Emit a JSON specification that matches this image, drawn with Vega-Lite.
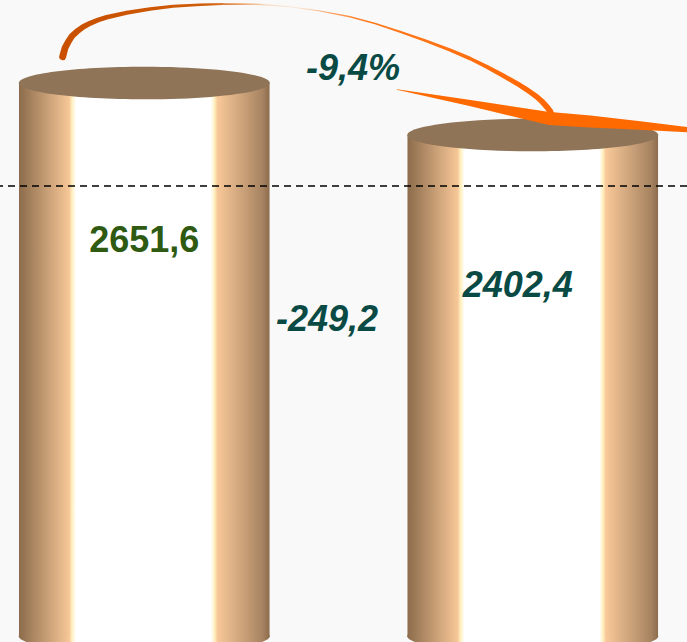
{
  "$schema": "https://vega.github.io/schema/vega-lite/v6.json",
  "width": 687,
  "height": 642,
  "padding": 0,
  "autosize": "none",
  "background": "#f9f9f9",
  "config": {"view": {"stroke": null}},
  "datasets": {
    "bars": [
      {"cat": "1", "value": 2651.6, "label": "2651,6"},
      {"cat": "2", "value": 2402.4, "label": "2402,4"}
    ],
    "ref": [{"level": 2158}],
    "arc": [
      {"ax": 62.7, "ay": 2777.3, "w": 7},
      {"ax": 65, "ay": 2819.0, "w": 6.8},
      {"ax": 68.3, "ay": 2849.2, "w": 6.5},
      {"ax": 72, "ay": 2876.5, "w": 6.2},
      {"ax": 76.7, "ay": 2897.1, "w": 6},
      {"ax": 83, "ay": 2919.6, "w": 5.6},
      {"ax": 90, "ay": 2937.4, "w": 5.2},
      {"ax": 98, "ay": 2953.2, "w": 4.9},
      {"ax": 106.7, "ay": 2966.1, "w": 4.6},
      {"ax": 126.7, "ay": 2988.2, "w": 4.1},
      {"ax": 150, "ay": 3005.9, "w": 3.6},
      {"ax": 173, "ay": 3018.8, "w": 3.1},
      {"ax": 200, "ay": 3026.5, "w": 2.6},
      {"ax": 223, "ay": 3029.8, "w": 2.1},
      {"ax": 257, "ay": 3028.4, "w": 1.5},
      {"ax": 290, "ay": 3016.9, "w": 1.1},
      {"ax": 320, "ay": 2996.3, "w": 1.2},
      {"ax": 350, "ay": 2969.0, "w": 1.5},
      {"ax": 375, "ay": 2936.4, "w": 1.8},
      {"ax": 400, "ay": 2897.1, "w": 2.2},
      {"ax": 425, "ay": 2855.0, "w": 2.7},
      {"ax": 450, "ay": 2809.4, "w": 3.2},
      {"ax": 470, "ay": 2768.7, "w": 3.6},
      {"ax": 486.7, "ay": 2729.4, "w": 4},
      {"ax": 502, "ay": 2689.7, "w": 4.4},
      {"ax": 516.7, "ay": 2649.9, "w": 4.8},
      {"ax": 528, "ay": 2615.4, "w": 5.1},
      {"ax": 536.7, "ay": 2585.7, "w": 5.4},
      {"ax": 542, "ay": 2562.7, "w": 5.6},
      {"ax": 546.7, "ay": 2537.8, "w": 5.8},
      {"ax": 550, "ay": 2517.2, "w": 6},
      {"ax": 551.7, "ay": 2498.0, "w": 6}
    ],
    "wedge": [
      {"ax": 397, "ay": 2620.2, "w": 0.5},
      {"ax": 470, "ay": 2555.5, "w": 6},
      {"ax": 550, "ay": 2481.2, "w": 13},
      {"ax": 590, "ay": 2466.9, "w": 12},
      {"ax": 640, "ay": 2447.7, "w": 8.5},
      {"ax": 690, "ay": 2427.1, "w": 5}
    ],
    "notes": [
      {"t": "-249,2"},
      {"t": "-9,4%"}
    ]
  },
  "resolve": {"scale": {"x": "independent"}},
  "layer": [
    {
      "data": {"name": "bars"},
      "encoding": {
        "x": {
          "field": "cat",
          "type": "nominal",
          "scale": {"type": "band", "paddingInner": 0.355, "paddingOuter": 0.0617, "align": 0.396},
          "axis": null
        }
      },
      "layer": [
        {
          "mark": {
            "type": "point",
            "shape": "M-1,0C-1,-0.0718,-0.5523,-0.13,0,-0.13C0.5523,-0.13,1,-0.0718,1,0C1,0.0718,0.5523,0.13,0,0.13C-0.5523,0.13,-1,0.0718,-1,0Z",
            "size": 63001,
            "filled": true,
            "opacity": 1,
            "strokeWidth": 0,
            "fill": {
              "gradient": "linear", "x1": 0, "x2": 1, "y1": 0, "y2": 0,
              "stops": [
                {"offset": 0, "color": "#8c6c4c"},
                {"offset": 0.2, "color": "#f6c696"},
                {"offset": 0.212, "color": "#fff0c0"},
                {"offset": 0.228, "color": "#ffffff"},
                {"offset": 0.765, "color": "#ffffff"},
                {"offset": 0.78, "color": "#fff0c0"},
                {"offset": 0.792, "color": "#f8c898"},
                {"offset": 0.97, "color": "#a88462"},
                {"offset": 1, "color": "#8c6c4c"}
              ]
            }
          },
          "encoding": {
            "y": {"datum": 0, "type": "quantitative", "scale": {"domain": [-27, 3049], "nice": false, "zero": false}, "axis": null}
          }
        },
        {
          "mark": {
            "type": "bar",
            "strokeWidth": 0,
            "fill": {
              "gradient": "linear", "x1": 0, "x2": 1, "y1": 0, "y2": 0,
              "stops": [
                {"offset": 0, "color": "#8c6c4c"},
                {"offset": 0.2, "color": "#f6c696"},
                {"offset": 0.212, "color": "#fff0c0"},
                {"offset": 0.228, "color": "#ffffff"},
                {"offset": 0.765, "color": "#ffffff"},
                {"offset": 0.78, "color": "#fff0c0"},
                {"offset": 0.792, "color": "#f8c898"},
                {"offset": 0.97, "color": "#a88462"},
                {"offset": 1, "color": "#8c6c4c"}
              ]
            }
          },
          "encoding": {
            "y": {"field": "value", "type": "quantitative", "scale": {"domain": [-27, 3049], "nice": false, "zero": false}, "axis": null},
            "y2": {"datum": 0}
          }
        },
        {
          "mark": {
            "type": "point",
            "shape": "M-1,0C-1,-0.0718,-0.5523,-0.13,0,-0.13C0.5523,-0.13,1,-0.0718,1,0C1,0.0718,0.5523,0.13,0,0.13C-0.5523,0.13,-1,0.0718,-1,0Z",
            "size": 63001,
            "filled": true,
            "opacity": 1,
            "strokeWidth": 0,
            "fill": "#907457"
          },
          "encoding": {
            "y": {"field": "value", "type": "quantitative", "scale": {"domain": [-27, 3049], "nice": false, "zero": false}, "axis": null}
          }
        },
        {
          "transform": [{"filter": "datum.cat === '1'"}],
          "mark": {
            "type": "text",
            "font": "Liberation Sans",
            "fontWeight": "bold",
            "fontSize": 36,
            "color": "#2f5a12",
            "align": "center",
            "baseline": "alphabetic",
            "dy": 169
          },
          "encoding": {
            "y": {"field": "value", "type": "quantitative", "scale": {"domain": [-27, 3049], "nice": false, "zero": false}, "axis": null},
            "text": {"field": "label"}
          }
        },
        {
          "transform": [{"filter": "datum.cat === '2'"}],
          "mark": {
            "type": "text",
            "font": "Liberation Sans",
            "fontWeight": "bold",
            "fontStyle": "italic",
            "fontSize": 36,
            "color": "#0a4a44",
            "align": "center",
            "baseline": "alphabetic",
            "dy": 162,
            "dx": -15
          },
          "encoding": {
            "y": {"field": "value", "type": "quantitative", "scale": {"domain": [-27, 3049], "nice": false, "zero": false}, "axis": null},
            "text": {"field": "label"}
          }
        }
      ]
    },
    {
      "data": {"name": "ref"},
      "mark": {"type": "rule", "color": "#000000", "strokeWidth": 1.5, "strokeDash": [7, 5]},
      "encoding": {
        "y": {"field": "level", "type": "quantitative", "scale": {"domain": [-27, 3049], "nice": false, "zero": false}, "axis": null}
      }
    },
    {
      "layer": [
        {
          "data": {"name": "arc"},
          "mark": {
            "type": "trail",
            "fill": {
              "gradient": "linear", "x1": 0, "x2": 1, "y1": 0, "y2": 0,
              "stops": [
                {"offset": 0, "color": "#c85000"},
                {"offset": 0.3, "color": "#d05c08"},
                {"offset": 0.36, "color": "#e89a60"},
                {"offset": 0.42, "color": "#f8dcc4"},
                {"offset": 0.48, "color": "#fbe8d8"},
                {"offset": 0.55, "color": "#fba060"},
                {"offset": 0.62, "color": "#ff7a20"},
                {"offset": 1, "color": "#ff6600"}
              ]
            }
          },
          "encoding": {
            "x": {"field": "ax", "type": "quantitative", "scale": {"domain": [0, 687], "nice": false, "zero": false}, "axis": null},
            "y": {"field": "ay", "type": "quantitative", "scale": {"domain": [-27, 3049], "nice": false, "zero": false}, "axis": null},
            "size": {"field": "w", "type": "quantitative", "scale": null, "legend": null}
          }
        },
        {
          "data": {"name": "wedge"},
          "mark": {"type": "trail", "fill": "#ff6a00"},
          "encoding": {
            "x": {"field": "ax", "type": "quantitative", "scale": {"domain": [0, 687], "nice": false, "zero": false}, "axis": null},
            "y": {"field": "ay", "type": "quantitative", "scale": {"domain": [-27, 3049], "nice": false, "zero": false}, "axis": null},
            "size": {"field": "w", "type": "quantitative", "scale": null, "legend": null}
          }
        },
        {
          "data": {"name": "notes"},
          "transform": [{"filter": "datum.t === '-249,2'"}],
          "mark": {
            "type": "text",
            "font": "Liberation Sans",
            "fontWeight": "bold",
            "fontStyle": "italic",
            "fontSize": 36,
            "color": "#0a4a44",
            "align": "center",
            "baseline": "alphabetic"
          },
          "encoding": {
            "x": {"datum": 327, "type": "quantitative", "scale": {"domain": [0, 687], "nice": false, "zero": false}, "axis": null},
            "y": {"datum": 1463, "type": "quantitative", "scale": {"domain": [-27, 3049], "nice": false, "zero": false}, "axis": null},
            "text": {"field": "t"}
          }
        },
        {
          "data": {"name": "notes"},
          "transform": [{"filter": "datum.t === '-9,4%'"}],
          "mark": {
            "type": "text",
            "font": "Liberation Sans",
            "fontWeight": "bold",
            "fontStyle": "italic",
            "fontSize": 36,
            "color": "#0a4a44",
            "align": "center",
            "baseline": "alphabetic"
          },
          "encoding": {
            "x": {"datum": 353, "type": "quantitative", "scale": {"domain": [0, 687], "nice": false, "zero": false}, "axis": null},
            "y": {"datum": 2665.7, "type": "quantitative", "scale": {"domain": [-27, 3049], "nice": false, "zero": false}, "axis": null},
            "text": {"field": "t"}
          }
        }
      ]
    }
  ]
}
